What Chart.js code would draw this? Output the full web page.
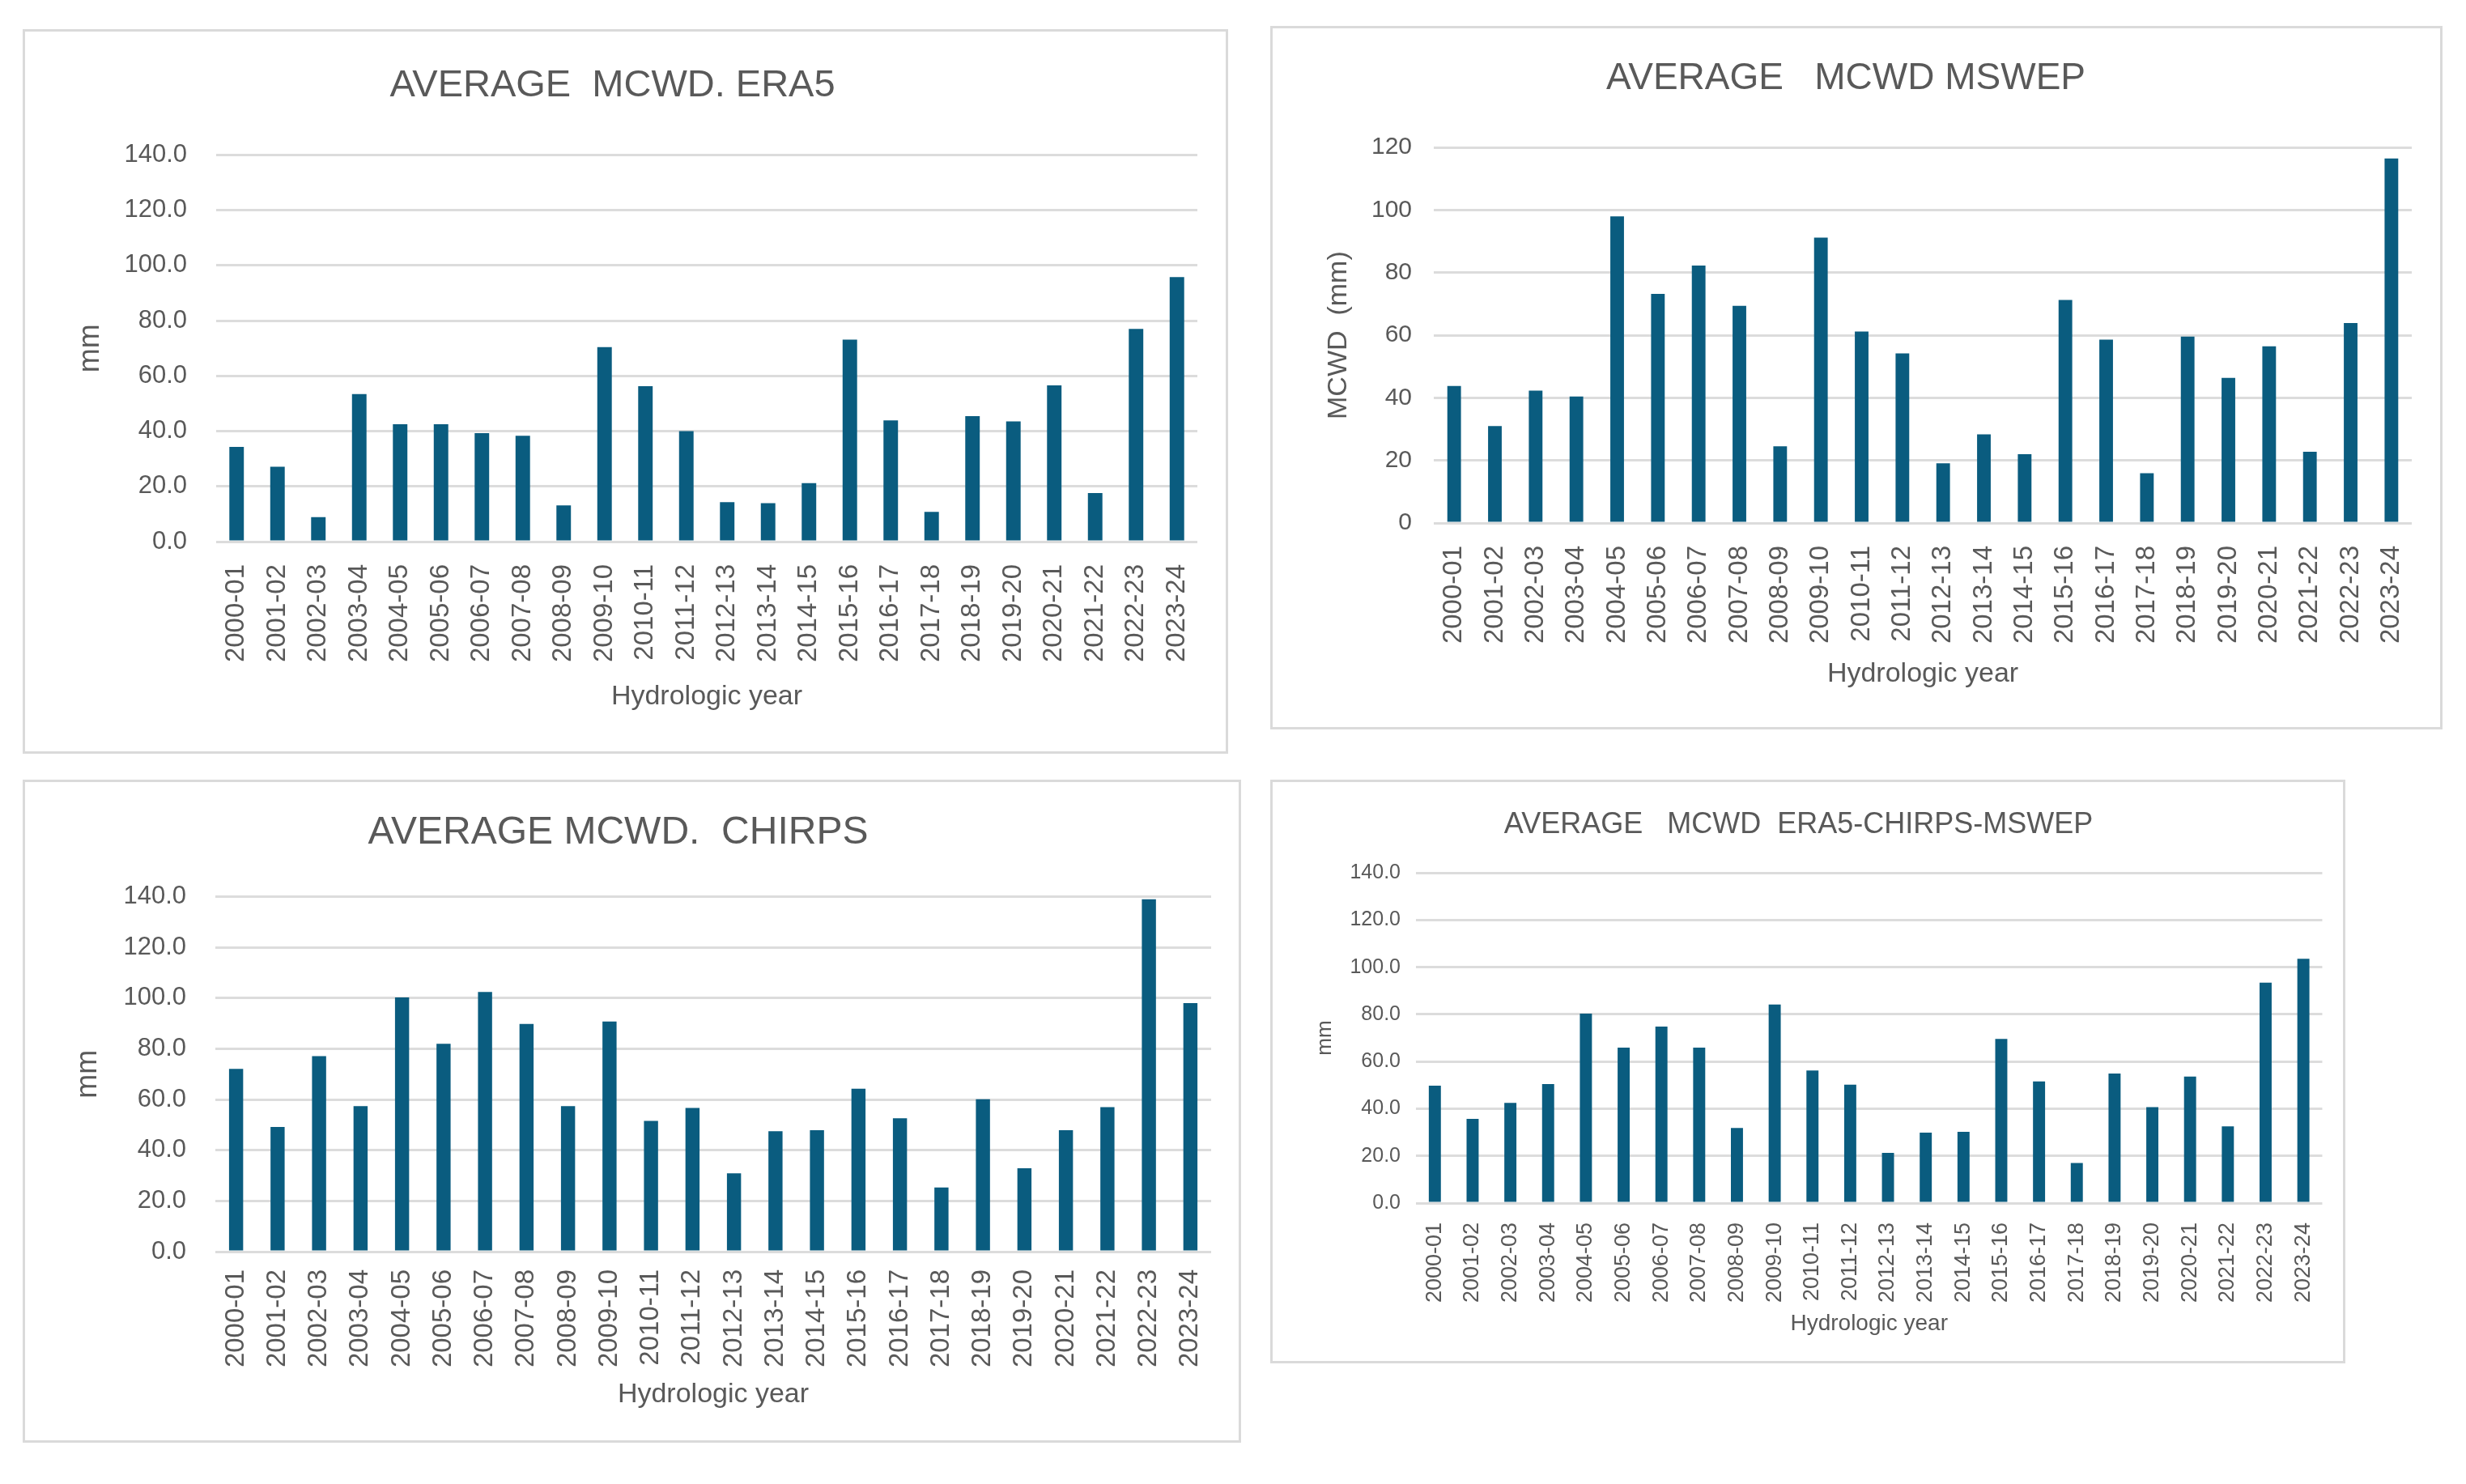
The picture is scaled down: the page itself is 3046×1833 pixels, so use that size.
<!DOCTYPE html>
<html>
<head>
<meta charset="utf-8">
<script src="https://cdn.jsdelivr.net/npm/chart.js@4.4.1/dist/chart.umd.min.js"></script>
<style>
  html, body { margin: 0; padding: 0; background: #fff; }
  body { width: 3046px; height: 1833px; position: relative; overflow: hidden; }
  .panel { position: absolute; box-sizing: border-box; border: 3px solid #dadada; background: #fff; }
  .panel canvas { display: block; }
</style>
</head>
<body>
<div class="panel" style="left:28px;top:36px;width:1489px;height:895px"><canvas id="era5"></canvas></div>
<div class="panel" style="left:1569px;top:32px;width:1448px;height:869px"><canvas id="mswep"></canvas></div>
<div class="panel" style="left:28px;top:963px;width:1505px;height:819px"><canvas id="chirps"></canvas></div>
<div class="panel" style="left:1569px;top:963px;width:1328px;height:721px"><canvas id="combined"></canvas></div>
<script>
// hydrologic years
const years = ['2000-01', '2001-02', '2002-03', '2003-04', '2004-05', '2005-06', '2006-07', '2007-08',
    '2008-09', '2009-10', '2010-11', '2011-12', '2012-13', '2013-14', '2014-15', '2015-16',
    '2016-17', '2017-18', '2018-19', '2019-20', '2020-21', '2021-22', '2022-23', '2023-24']

// average MCWD (mm) per product
const era5 = [34.3, 27.1, 8.9, 53.4, 42.5, 42.5, 39.3, 38.3, 13.1, 70.4, 56.3, 40.0,
    14.3, 13.9, 21.2, 73.1, 43.9, 10.8, 45.4, 43.5, 56.6, 17.6, 77.0, 95.8]
const mswep = [43.8, 31.0, 42.3, 40.4, 98.0, 73.2, 82.3, 69.4, 24.5, 91.2, 61.2, 54.2,
    19.1, 28.3, 22.0, 71.3, 58.6, 15.9, 59.6, 46.4, 56.5, 22.8, 63.9, 116.5]
const chirps = [72.1, 49.2, 77.1, 57.4, 100.3, 82.0, 102.4, 89.8, 57.4, 90.8, 51.6, 56.7,
    30.9, 47.5, 47.9, 64.3, 52.6, 25.3, 60.1, 32.9, 47.9, 57.0, 139.0, 98.0]
const combined = [49.8, 35.7, 42.5, 50.5, 80.3, 65.9, 74.8, 65.9, 31.8, 84.2, 56.2, 50.2,
    21.3, 29.9, 30.2, 69.6, 51.6, 17.0, 54.9, 40.7, 53.6, 32.5, 93.5, 103.6]

const barColor = '#0a5c7f'
const gridColor = '#dcdcdc'
const textColor = '#595959'
const fontFamily = "'Liberation Sans', Arial, sans-serif"

function makeChart(id, values, o) {
    return new Chart(document.getElementById(id), {
        type: 'bar',
        data: {
            labels: years,
            datasets: [{
                data: values,
                backgroundColor: barColor,
                borderWidth: 0,
                barPercentage: o.bar,
                categoryPercentage: 1
            }]
        },
        options: {
            responsive: true,
            maintainAspectRatio: false,
            devicePixelRatio: 1,
            animation: false,
            layout: { padding: { left: 0, top: 0, bottom: 0, right: o.right } },
            plugins: {
                legend: { display: false },
                tooltip: { enabled: false },
                title: {
                    display: true,
                    text: o.title,
                    color: textColor,
                    font: { family: fontFamily, size: o.titleSize, weight: 'normal' },
                    padding: { top: o.titlePadTop, bottom: o.titlePadBottom }
                }
            },
            scales: {
                x: {
                    grid: { display: false },
                    border: { display: false },
                    ticks: {
                        autoSkip: false,
                        minRotation: 90,
                        maxRotation: 90,
                        padding: o.xTickPad,
                        color: textColor,
                        font: { family: fontFamily, size: o.xTickSize }
                    },
                    title: {
                        display: true,
                        text: 'Hydrologic year',
                        color: textColor,
                        font: { family: fontFamily, size: o.xTitleSize },
                        padding: { top: 0, bottom: o.xTitlePad }
                    },
                    afterFit(scale) { scale.height = o.bottom }
                },
                y: {
                    min: 0,
                    max: o.max,
                    ticks: {
                        stepSize: 20,
                        padding: o.yTickPad,
                        color: textColor,
                        font: { family: fontFamily, size: o.yTickSize },
                        callback: v => o.decimals ? v.toFixed(1) : v
                    },
                    grid: { color: gridColor, lineWidth: 3, drawTicks: false },
                    border: { display: false },
                    title: {
                        display: true,
                        text: o.yTitle,
                        color: textColor,
                        font: { family: fontFamily, size: o.yTitleSize },
                        padding: { top: o.yTitlePad, bottom: 0 }
                    },
                    afterFit(scale) { scale.width = o.left }
                }
            }
        }
    })
}

makeChart('era5', era5, {
    title: 'AVERAGE  MCWD. ERA5', titleSize: 47, titlePadTop: 39, titlePadBottom: 57,
    left: 236, right: 32, bottom: 259, bar: 0.355, max: 140, decimals: true,
    yTitle: 'mm', yTitleSize: 36, yTitlePad: 59, yTickSize: 31, yTickPad: 36,
    xTickSize: 33, xTickPad: 20, xTitleSize: 34, xTitlePad: 47
})

makeChart('mswep', mswep, {
    title: 'AVERAGE   MCWD MSWEP', titleSize: 46, titlePadTop: 35, titlePadBottom: 57,
    left: 199, right: 26, bottom: 252, bar: 0.335, max: 120, decimals: false,
    yTitle: 'MCWD  (mm)', yTitleSize: 34, yTitlePad: 61, yTickSize: 30, yTickPad: 27,
    xTickSize: 33, xTickPad: 20, xTitleSize: 34, xTitlePad: 45
})

makeChart('chirps', chirps, {
    title: 'AVERAGE MCWD.  CHIRPS', titleSize: 48, titlePadTop: 34, titlePadBottom: 50,
    left: 235, right: 34, bottom: 233, bar: 0.34, max: 140, decimals: true,
    yTitle: 'mm', yTitleSize: 36, yTitlePad: 56, yTickSize: 31, yTickPad: 36,
    xTickSize: 33, xTickPad: 14, xTitleSize: 34, xTitlePad: 36
})

makeChart('combined', combined, {
    title: 'AVERAGE   MCWD  ERA5-CHIRPS-MSWEP', titleSize: 36, titlePadTop: 31, titlePadBottom: 38,
    left: 177, right: 23, bottom: 195, bar: 0.32, max: 140, decimals: true,
    yTitle: 'mm', yTitleSize: 26, yTitlePad: 49, yTickSize: 25, yTickPad: 19,
    xTickSize: 27, xTickPad: 16, xTitleSize: 28, xTitlePad: 29
})
</script>
</body>
</html>
